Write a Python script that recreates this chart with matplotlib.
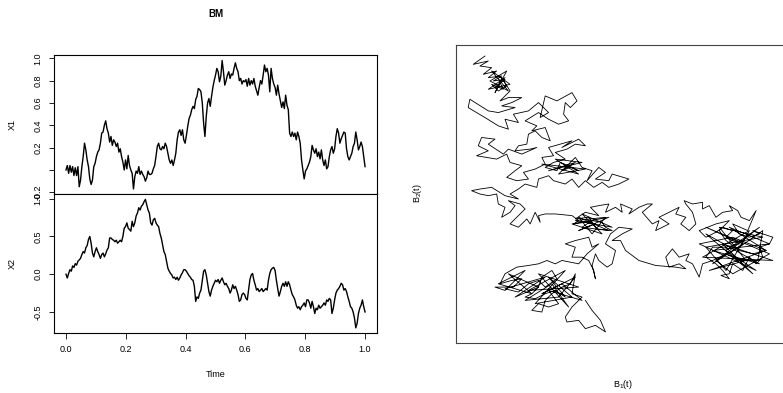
import numpy as np
import matplotlib
matplotlib.use("Agg")
import matplotlib.pyplot as plt

plt.rcParams['font.family'] = ['Liberation Sans', 'DejaVu Sans']
plt.rcParams['axes.unicode_minus'] = False
plt.rcParams['mathtext.fontset'] = 'custom'
plt.rcParams['mathtext.rm'] = 'Liberation Sans'

# first coordinate of the path, sampled evenly over [0, 1]
x1 = [0.00, 0.04, -0.03, 0.04, -0.02, 0.03, -0.05, 0.02, -0.05, 0.03,
      -0.15, -0.09, 0.03, 0.12, 0.24, 0.18, 0.09, 0.03, -0.08, -0.13,
      -0.09, 0.03, 0.06, 0.12, 0.16, 0.18, 0.24, 0.33,
      0.34, 0.40, 0.44, 0.37, 0.33, 0.25, 0.30, 0.22, 0.27, 0.25,
      0.21, 0.24, 0.16, 0.19, 0.12, 0.07, 0.00, 0.09,
      0.01, 0.13, 0.04, 0.00, -0.03, -0.17, -0.06, -0.01, -0.03, 0.03,
      -0.04, -0.01, -0.04, -0.06, -0.10, -0.07, -0.01, -0.04, -0.04, -0.03,
      0.01, 0.04, 0.12, 0.21, 0.24, 0.19, 0.18, 0.21, 0.19, 0.24,
      0.21, 0.15, 0.09, 0.06, 0.09, 0.04, 0.09, 0.15, 0.27, 0.34,
      0.36, 0.31, 0.36, 0.27, 0.24, 0.31, 0.39, 0.46, 0.49, 0.54,
      0.57, 0.55, 0.63, 0.66, 0.73, 0.72, 0.70, 0.60, 0.42, 0.30,
      0.48, 0.60, 0.64, 0.57, 0.66, 0.74, 0.80, 0.85, 0.91, 0.88,
      0.79, 0.84, 0.98, 0.88, 0.76, 0.80, 0.85, 0.88, 0.82, 0.86,
      0.85, 0.91, 0.96, 0.91, 0.88, 0.80, 0.82, 0.77, 0.80, 0.79,
      0.81, 0.75, 0.82, 0.76, 0.80, 0.77, 0.82, 0.75, 0.71, 0.67,
      0.74, 0.80, 0.77, 0.85, 0.94, 0.88, 0.91, 0.85, 0.70, 0.91,
      0.82, 0.77, 0.74, 0.67, 0.76, 0.68, 0.62, 0.56, 0.61, 0.55,
      0.67, 0.58, 0.54, 0.33, 0.30, 0.34, 0.30, 0.33, 0.27, 0.34,
      0.30, 0.24, 0.09, 0.00, -0.08, -0.01, 0.01, 0.04, 0.07, 0.12,
      0.22, 0.18, 0.15, 0.19, 0.12, 0.16, 0.10, 0.18, 0.09, 0.04,
      0.09, 0.01, 0.03, 0.12, 0.18, 0.21, 0.15, 0.19, 0.30, 0.37,
      0.33, 0.24, 0.28, 0.31, 0.34, 0.33, 0.19, 0.12, 0.09, 0.12,
      0.15, 0.21, 0.24, 0.34, 0.27, 0.18, 0.21, 0.25, 0.21, 0.12,
      0.03]

# second coordinate, same sampling
x2 = [0.00, -0.05, 0.01, 0.06, 0.04, 0.11, 0.09, 0.14, 0.12, 0.17,
      0.19, 0.21, 0.26, 0.30, 0.28, 0.35, 0.38, 0.46, 0.50, 0.41,
      0.28, 0.23, 0.30, 0.35, 0.30, 0.26, 0.21, 0.26, 0.28, 0.23,
      0.27, 0.32, 0.35, 0.48, 0.48, 0.46, 0.45, 0.43, 0.45, 0.41,
      0.43, 0.45, 0.43, 0.50, 0.61, 0.63, 0.68, 0.61, 0.59, 0.57,
      0.70, 0.63, 0.68, 0.77, 0.81, 0.88, 0.85, 0.90, 0.92, 0.96,
      0.99, 0.92, 0.85, 0.81, 0.68, 0.65, 0.72, 0.74, 0.68, 0.65,
      0.63, 0.54, 0.48, 0.39, 0.30, 0.26, 0.17, 0.08, 0.04, 0.01,
      -0.01, -0.05, -0.04, -0.07, -0.04, -0.08, -0.05, -0.01, 0.02, 0.06,
      0.06, 0.04, 0.01, -0.02, -0.04, -0.07, -0.08, -0.16, -0.36, -0.30,
      -0.32, -0.25, -0.21, -0.08, 0.04, 0.06, -0.01, -0.12, -0.23, -0.29,
      -0.21, -0.16, -0.12, -0.08, -0.10, -0.07, -0.12, -0.08, -0.05, -0.10,
      -0.14, -0.12, -0.16, -0.19, -0.25, -0.21, -0.14, -0.19, -0.16, -0.21,
      -0.27, -0.36, -0.34, -0.27, -0.25, -0.27, -0.32, -0.34, -0.21, -0.07,
      -0.01, 0.01, -0.08, -0.14, -0.21, -0.19, -0.23, -0.21, -0.19, -0.23,
      -0.21, -0.19, -0.21, -0.08, 0.01, 0.06, 0.08, 0.09, 0.05, -0.08,
      -0.19, -0.29, -0.23, -0.16, -0.12, -0.16, -0.10, -0.16, -0.10, -0.14,
      -0.21, -0.27, -0.30, -0.34, -0.41, -0.45, -0.43, -0.47, -0.43, -0.41,
      -0.38, -0.43, -0.34, -0.34, -0.38, -0.45, -0.36, -0.43, -0.52, -0.45,
      -0.47, -0.41, -0.45, -0.43, -0.41, -0.38, -0.41, -0.34, -0.36, -0.32,
      -0.34, -0.52, -0.45, -0.34, -0.25, -0.21, -0.19, -0.16, -0.12, -0.14,
      -0.21, -0.19, -0.23, -0.30, -0.36, -0.43, -0.45, -0.50, -0.58, -0.71,
      -0.65, -0.52, -0.45, -0.41, -0.34, -0.43, -0.50]

# planar path B(t) = (B1, B2)
b1 = [0.140, 0.105, 0.150, 0.125, 0.160, 0.135, 0.175, 0.150, 0.190, 0.165,
      0.200, 0.170,
      0.200, 0.150, 0.215, 0.160, 0.210, 0.155, 0.205, 0.170,
      0.185, 0.195, 0.160, 0.180, 0.205, 0.190, 0.215, 0.200,
      0.185, 0.210, 0.250, 0.220, 0.190, 0.230, 0.180, 0.150, 0.095, 0.090,
      0.140, 0.180, 0.210, 0.200, 0.240, 0.225, 0.270, 0.300, 0.330, 0.305,
      0.320, 0.355, 0.400, 0.415, 0.395, 0.380, 0.375, 0.390, 0.360, 0.330,
      0.300, 0.260, 0.295, 0.280, 0.320, 0.335, 0.310, 0.290, 0.270, 0.265,
      0.240, 0.230, 0.275, 0.295, 0.250, 0.210, 0.195, 0.150, 0.170, 0.130,
      0.120, 0.150, 0.115, 0.175, 0.205, 0.215, 0.250, 0.230, 0.205, 0.235,
      0.270, 0.255, 0.290, 0.320, 0.310, 0.345, 0.330, 0.365, 0.400, 0.370,
      0.420, 0.440, 0.410, 0.385, 0.350, 0.380, 0.345, 0.320, 0.355, 0.365,
      0.390, 0.420, 0.395, 0.370, 0.410,
      0.330, 0.430, 0.350, 0.420, 0.310, 0.440, 0.360, 0.410,
      0.430, 0.460, 0.445, 0.480, 0.500,
      0.470, 0.510, 0.520, 0.570, 0.540, 0.510, 0.490, 0.465, 0.440, 0.420,
      0.400, 0.380, 0.345, 0.330, 0.300, 0.295, 0.260, 0.240, 0.215, 0.240,
      0.200, 0.160, 0.125, 0.100, 0.125, 0.150, 0.175, 0.180, 0.200, 0.190,
      0.215, 0.230, 0.210, 0.245, 0.260, 0.240, 0.215, 0.240, 0.265, 0.275,
      0.290, 0.305, 0.300, 0.320, 0.350, 0.400, 0.420, 0.405, 0.440, 0.470,
      0.420, 0.510, 0.400, 0.490, 0.430, 0.520, 0.410, 0.500, 0.460, 0.420, 0.510,
      0.430, 0.460, 0.490, 0.500, 0.520, 0.475, 0.450, 0.410, 0.440, 0.480,
      0.455, 0.480, 0.510, 0.500, 0.530, 0.550, 0.545, 0.580, 0.570, 0.600,
      0.625, 0.640, 0.610, 0.640, 0.660, 0.650, 0.690, 0.660, 0.700, 0.720,
      0.710, 0.740, 0.725, 0.750, 0.770, 0.760, 0.740, 0.735, 0.760, 0.790,
      0.790, 0.810, 0.830, 0.850, 0.880, 0.870, 0.895, 0.905, 0.930, 0.950,
      0.925, 0.880, 0.900, 0.930, 0.960, 0.940, 1.000, 0.990, 0.960, 0.970,
      0.950, 0.930, 0.910, 0.880, 0.870, 0.845, 0.870, 0.850, 0.830, 0.800,
      0.820, 0.860, 0.900, 0.860, 0.880, 0.850, 0.830, 0.800, 0.780, 0.830,
      0.870, 0.840, 0.860, 0.900, 0.940, 0.980,
      0.870, 0.990, 0.820, 0.960, 0.800, 0.940, 0.850, 1.000, 0.790, 0.930,
      0.860, 0.800, 0.970, 0.840, 0.920, 0.810, 0.980, 0.880, 0.780, 0.950,
      0.860, 0.960, 0.820, 0.910, 0.800, 0.990, 0.880, 0.830, 0.900, 0.970,
      0.955, 0.900, 0.860, 0.820,
      0.790, 0.780, 0.770, 0.760, 0.740, 0.750, 0.720, 0.700, 0.680, 0.690,
      0.720, 0.740, 0.710, 0.650, 0.600, 0.560, 0.545, 0.520, 0.550, 0.580,
      0.540, 0.515, 0.500, 0.530, 0.520, 0.505, 0.480, 0.470, 0.460, 0.470,
      0.465, 0.450, 0.430, 0.400, 0.410, 0.380, 0.410, 0.450, 0.460, 0.480,
      0.445, 0.420, 0.395, 0.370, 0.350, 0.325, 0.300, 0.270, 0.235, 0.200,
      0.185, 0.220, 0.250, 0.225, 0.170, 0.200,
      0.260, 0.180, 0.280, 0.210, 0.300, 0.230, 0.320, 0.200,
      0.240, 0.270, 0.300, 0.320,
      0.355, 0.340, 0.310, 0.300, 0.280, 0.260, 0.290, 0.320, 0.350, 0.380,
      0.330, 0.400, 0.290, 0.380, 0.270, 0.420, 0.300, 0.390, 0.340, 0.260,
      0.360, 0.410, 0.310, 0.370, 0.430, 0.330,
      0.360, 0.330, 0.300, 0.280, 0.310, 0.320, 0.340, 0.370, 0.395, 0.410,
      0.400, 0.430, 0.400, 0.380, 0.385, 0.420, 0.440, 0.470, 0.500, 0.485,
      0.460, 0.440]

b2 = [-0.075, -0.100, -0.090, -0.105, -0.110, -0.130, -0.120, -0.140, -0.135, -0.150,
      -0.145, -0.170,
      -0.140, -0.175, -0.160, -0.120, -0.180, -0.150, -0.120, -0.185,
      -0.155, -0.175, -0.160, -0.180, -0.165, -0.140, -0.180, -0.195,
      -0.210, -0.200, -0.200, -0.215, -0.225, -0.230, -0.245, -0.240, -0.205, -0.230,
      -0.260, -0.285, -0.295, -0.265, -0.275, -0.250, -0.240, -0.215, -0.245, -0.260,
      -0.195, -0.210, -0.185, -0.210, -0.230, -0.215, -0.250, -0.270, -0.280, -0.265,
      -0.245, -0.270, -0.285, -0.300, -0.290, -0.330, -0.320, -0.300, -0.310, -0.340,
      -0.345, -0.360, -0.355, -0.350, -0.370, -0.355, -0.370, -0.340, -0.325, -0.320,
      -0.345, -0.360, -0.375, -0.385, -0.370, -0.395, -0.405, -0.420, -0.440, -0.450,
      -0.445, -0.425, -0.415, -0.400, -0.380, -0.375, -0.350, -0.340, -0.330, -0.350,
      -0.325, -0.345, -0.340, -0.355, -0.365, -0.385, -0.395, -0.410, -0.420, -0.395,
      -0.405, -0.420, -0.410, -0.420, -0.395,
      -0.420, -0.395, -0.385, -0.430, -0.400, -0.415, -0.430, -0.380,
      -0.410, -0.420, -0.450, -0.410, -0.425,
      -0.445, -0.450, -0.430, -0.445, -0.460, -0.470, -0.455, -0.470, -0.450, -0.470,
      -0.445, -0.460, -0.450, -0.435, -0.445, -0.470, -0.460, -0.475, -0.490, -0.505,
      -0.495, -0.470, -0.475, -0.480, -0.490, -0.495, -0.490, -0.520, -0.530, -0.560,
      -0.545, -0.525, -0.510, -0.520, -0.535, -0.555, -0.580, -0.590, -0.565, -0.580,
      -0.545, -0.575, -0.555, -0.550, -0.550, -0.555, -0.570, -0.580, -0.575, -0.580,
      -0.600, -0.560, -0.580, -0.610, -0.550, -0.590, -0.570, -0.560, -0.610, -0.560, -0.600,
      -0.590, -0.570, -0.575, -0.590, -0.600, -0.595, -0.560, -0.565, -0.545, -0.555,
      -0.530, -0.525, -0.520, -0.545, -0.530, -0.545, -0.520, -0.535, -0.550, -0.530,
      -0.520, -0.520, -0.545, -0.580, -0.570, -0.600, -0.580, -0.560, -0.540, -0.530,
      -0.550, -0.560, -0.580, -0.600, -0.580, -0.545, -0.520, -0.510, -0.520, -0.515,
      -0.535, -0.525, -0.560, -0.545, -0.540, -0.525, -0.540, -0.560, -0.570, -0.540,
      -0.600, -0.580, -0.610, -0.620, -0.610, -0.600, -0.620, -0.640, -0.650, -0.680,
      -0.700, -0.680, -0.720, -0.700, -0.730, -0.735, -0.745, -0.720, -0.700, -0.680,
      -0.650, -0.650, -0.640, -0.620, -0.600, -0.590, -0.605, -0.620, -0.600, -0.580,
      -0.570, -0.600, -0.630, -0.660, -0.670, -0.660,
      -0.590, -0.640, -0.660, -0.700, -0.610, -0.730, -0.640, -0.690, -0.680, -0.600,
      -0.720, -0.650, -0.620, -0.590, -0.690, -0.720, -0.660, -0.620, -0.640, -0.720,
      -0.660, -0.590, -0.700, -0.640, -0.590, -0.670, -0.730, -0.690, -0.650, -0.600,
      -0.690, -0.690, -0.670, -0.690,
      -0.700, -0.740, -0.720, -0.700, -0.690, -0.670, -0.680, -0.655, -0.680, -0.710,
      -0.700, -0.715, -0.710, -0.705, -0.690, -0.660, -0.630, -0.630, -0.610, -0.595,
      -0.590, -0.610, -0.640, -0.660, -0.700, -0.710, -0.690, -0.670, -0.705, -0.745,
      -0.720, -0.690, -0.680, -0.680, -0.650, -0.640, -0.630, -0.620, -0.650, -0.640,
      -0.670, -0.700, -0.695, -0.690, -0.700, -0.690, -0.700, -0.705, -0.710, -0.730,
      -0.760, -0.750, -0.745, -0.770, -0.770, -0.780,
      -0.720, -0.760, -0.790, -0.730, -0.770, -0.800, -0.740, -0.775,
      -0.785, -0.760, -0.750, -0.770,
      -0.745, -0.720, -0.740, -0.770, -0.790, -0.800, -0.805, -0.790, -0.780, -0.800,
      -0.740, -0.800, -0.820, -0.720, -0.780, -0.770, -0.730, -0.830, -0.760, -0.810,
      -0.800, -0.740, -0.790, -0.760, -0.810, -0.780,
      -0.820, -0.830, -0.820, -0.840, -0.845, -0.810, -0.790, -0.770, -0.760, -0.730,
      -0.790, -0.800, -0.830, -0.860, -0.875, -0.870, -0.895, -0.885, -0.905, -0.870,
      -0.840, -0.810]

time_ticks = [0.0, 0.2, 0.4, 0.6, 0.8, 1.0]
time_labels = ['0.0', '0.2', '0.4', '0.6', '0.8', '1.0']
x1_ticks = [-0.2, 0.0, 0.2, 0.4, 0.6, 0.8, 1.0]
x1_labels = ['-0.2', '', '0.2', '0.4', '0.6', '0.8', '1.0']
x2_ticks = [-0.5, 0.0, 0.5, 1.0]
x2_labels = ['-0.5', '0.0', '0.5', '1.0']

fs = 6.5
t1 = np.linspace(0, 1, len(x1))
t2 = np.linspace(0, 1, len(x2))

fig = plt.figure(figsize=(7.83, 3.93), dpi=100)
ax1 = fig.add_axes([0.0690, 0.5064, 0.4125, 0.3537])
ax2 = fig.add_axes([0.0690, 0.1527, 0.4125, 0.3537])
ax3 = fig.add_axes([0.5824, 0.1272, 0.4202, 0.7583])


def style_ts(ax, series, t, yticks, ylabels, name):
    ax.plot(t, series, color='black', lw=1.0)
    ax.set_xlim(-0.04, 1.04)
    ax.set_yticks(yticks)
    ax.set_yticklabels(ylabels, rotation=90, va='center', fontsize=fs)
    ax.tick_params(axis='y', direction='out', length=3.6, width=0.6, pad=4.5)
    for s in ax.spines.values():
        s.set_linewidth(0.8)
        s.set_color('black')
    ax.set_ylabel(name, fontsize=fs)


style_ts(ax1, x1, t1, x1_ticks, x1_labels, 'X1')
ax1.set_ylim(-0.215, 1.03)
ax1.set_xticks([])

style_ts(ax2, x2, t2, x2_ticks, x2_labels, 'X2')
ax2.set_ylim(-0.778, 1.062)
ax2.set_xticks(time_ticks)
ax2.set_xticklabels(time_labels, fontsize=fs)
ax2.tick_params(axis='x', direction='out', length=4.5, width=0.6, pad=4.5)
ax2.set_xlabel('Time', fontsize=fs, labelpad=11)

for ax in (ax1, ax2):
    ax.yaxis.set_label_coords(-0.115, 0.5)

fig.text(0.2752, 0.964, 'BM', ha='center', va='center', fontsize=7, fontweight='bold')

# planar path, no axes, limits padded like R's default 4%
ax3.plot(b1, b2, color='black', lw=0.6)
pad1 = 0.04 * (max(b1) - min(b1))
pad2 = 0.04 * (max(b2) - min(b2))
ax3.set_xlim(min(b1) - pad1, max(b1) + pad1)
ax3.set_ylim(min(b2) - pad2, max(b2) + pad2)
ax3.set_xticks([])
ax3.set_yticks([])
for s in ax3.spines.values():
    s.set_linewidth(0.8)
    s.set_color('#444444')
fig.text(0.7957, 0.0215, r'$\mathrm{B_1(t)}$', ha='center', va='center', fontsize=fs)
fig.text(0.5326, 0.509, r'$\mathrm{B_2(t)}$', ha='center', va='center', fontsize=fs, rotation=90)

fig.savefig('out.png', dpi=100)
